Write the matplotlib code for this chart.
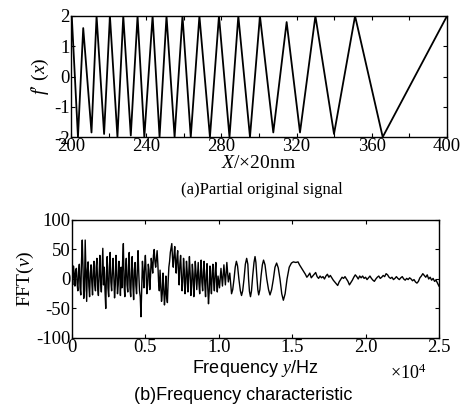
import matplotlib
matplotlib.use("Agg")
import matplotlib.pyplot as plt
from matplotlib.ticker import MultipleLocator

plt.rcParams['font.family'] = ['Liberation Serif', 'DejaVu Serif']
plt.rcParams['mathtext.fontset'] = 'custom'
plt.rcParams['mathtext.rm'] = 'Liberation Serif'
plt.rcParams['mathtext.it'] = 'Liberation Serif:italic'
plt.rcParams['axes.unicode_minus'] = False

# (a) partial original signal: turning points of the triangle wave
sig_x = [200.0, 200.4, 203.7, 206.5, 210.9, 213.6, 217.6, 220.7, 224.7, 227.8,
         231.8, 235.4, 239.0, 243.4, 247.1, 250.8, 255.1, 259.3, 263.7, 268.3,
         273.9, 278.7, 284.3, 289.0, 295.2, 300.5, 307.6, 314.7, 321.8, 330.0,
         339.9, 351.1, 365.8, 400.0]
sig_y = [1.0, 2.0, -2.0, 1.6, -1.85, 2.0, -1.9, 2.0, -2.0, 2.0,
         -1.95, 2.0, -2.0, 2.0, -2.0, 2.0, -2.0, 2.0, -2.0, 2.0,
         -2.0, 2.0, -2.0, 2.0, -2.0, 2.0, -1.85, 1.8, -1.85, 2.0,
         -1.9, 2.0, -2.0, 2.0]

# (b) frequency characteristic (frequency in units of 1e4 Hz)
# noisy part, one value every 0.005 from 0 to 0.995
dense_y = [5, -10, 22, 8, -12, 15, 18, -8, -20, 12,
           25, -15, -27, 30, 66, 20, -33, -20, 66, 10,
           -38, 15, 29, -12, -30, 10, 24, -5, -27, 15,
           30, -10, -20, 20, 35, -15, -28, 10, 40, -5,
           -22, 15, 52, -10, 20, -20, -50, 10, 38, -15,
           -30, 20, 45, -5, -20, 10, 35, 5, -32, -10,
           40, 15, -25, -10, 30, 12, -28, 20, -15, 30,
           60, -10, -30, 15, 35, -10, -22, 20, 45, -15,
           -30, 10, 38, -10, -35, 15, 28, -10, -25, 15,
           48, 10, -20, -30, -64, -20, 30, 10, -15, 20,
           40, 10, -25, -10, 25, 15, -18, 5, 35, 25,
           10, 40, 50, 30, 20, 35, 48, 25, -5, -20,
           15, -10, -38, -25, 10, -15, -44, -25, 5, -30,
           -40, -5, 20, 30, 45, 52, 60, 35, 20, 40,
           55, 30, 10, 35, 48, 15, -10, 25, 40, 10,
           -20, -5, 35, 15, -25, -8, 30, 12, -22, 5,
           38, 10, -28, -10, 25, 8, -30, -5, 30, 10,
           -18, 5, 28, -8, -25, 10, 32, -5, -20, 12,
           30, -10, -30, 8, 26, -15, -42, -20, 22, -5,
           -25, 10, 25, -5, -20, 10, 28, -5, -22, 5]
dense_x = [i / 200 for i in range(len(dense_y))]

# slower oscillation up to about 1.55
wave_x = [1.005, 1.015, 1.025, 1.035, 1.045, 1.055, 1.065, 1.075, 1.087, 1.095,
          1.104, 1.112, 1.120, 1.128, 1.137, 1.147, 1.155, 1.163, 1.172, 1.181,
          1.190, 1.198, 1.203, 1.209, 1.216, 1.223, 1.231, 1.240, 1.247, 1.253,
          1.259, 1.266, 1.272, 1.280, 1.288, 1.297, 1.305, 1.315, 1.327, 1.339,
          1.349, 1.360, 1.372, 1.383, 1.394, 1.405, 1.417, 1.429, 1.440, 1.452,
          1.465, 1.480, 1.495, 1.508, 1.525, 1.540, 1.550]
wave_y = [-15, 18, -12, 24, -10, 28, -5, 10, -25, -18,
          0, 20, 30, 22, 0, -20, -28, -20, 0, 25,
          35, 25, 0, -21, -30, -20, 5, 28, 38, 28,
          5, -18, -27, -18, 5, 24, 32, 24, 0, -18,
          -27, -18, 0, 20, 27, 19, 0, -25, -36, -25,
          0, 20, 27, 29, 28, 29, 24]

# flat noisy tail, one value every 0.01 from 1.56 to 2.50
tail_y = [20, 16, 12, 8, 3, 6, 10, 2, 5, 8,
          11, 4, 1, 5, 2, 4, 0, 5, 8, 3,
          6, 2, -2, -5, -8, -11, -5, -1, 3, 1,
          4, 0, -4, -10, -6, -2, 3, 7, 4, 0,
          5, 2, 5, 1, 3, -1, 2, 5, 1, -2,
          -4, 0, 3, 5, 1, 3, 6, 4, 9, 7,
          3, 1, 3, -1, 1, 4, 1, -1, 2, 4,
          0, -2, 1, -1, 2, 0, -3, -1, -5, -7,
          -4, 2, 5, 9, 6, 3, 7, 0, 3, -2,
          1, -4, -2, -7, -12]
tail_x = [(156 + i) / 100 for i in range(len(tail_y))]

fig = plt.figure(figsize=(4.65, 4.08), dpi=100)

ax1 = fig.add_axes([0.1527, 0.6642, 0.8086, 0.2966])
ax1.plot(sig_x, sig_y, color='black', linewidth=1.3)
ax1.set_xlim(200, 400)
ax1.set_ylim(-2, 2)
ax1.xaxis.set_major_locator(MultipleLocator(40))
ax1.xaxis.set_minor_locator(MultipleLocator(20))
ax1.yaxis.set_major_locator(MultipleLocator(1))
ax1.set_xlabel(r"$X$/×20nm", fontsize=14, labelpad=0)
ax1.set_ylabel(r"$f$′ ($x$)", fontsize=14, labelpad=2)

ax2 = fig.add_axes([0.1548, 0.1716, 0.7892, 0.2892])
ax2.plot(dense_x + wave_x + tail_x, dense_y + wave_y + tail_y,
         color='black', linewidth=1.0)
ax2.set_xlim(0, 2.5)
ax2.set_ylim(-100, 100)
ax2.yaxis.set_major_locator(MultipleLocator(50))
ax2.set_xticks([0, 0.5, 1.0, 1.5, 2.0, 2.5])
ax2.set_xticklabels(['0', '0.5', '1.0', '1.5', '2.0', '2.5'])
ax2.set_xlabel(r"Frequency $y$/Hz", fontsize=13, family='Liberation Sans', labelpad=1)
ax2.set_ylabel(r"FFT($v$)", fontsize=14, labelpad=0)

for ax in (ax1, ax2):
    ax.tick_params(which='both', direction='in', top=True, right=True,
                   length=3, width=0.8, labelsize=13.5, pad=1)
    for s in ax.spines.values():
        s.set_linewidth(1.0)

fig.text(0.877, 0.086, r"×10$^4$", fontsize=13, ha='center', va='center')
fig.text(0.563, 0.534, "(a)Partial original signal", fontsize=12, ha='center', va='center')
fig.text(0.523, 0.031, "(b)Frequency characteristic", fontsize=13, ha='center',
         va='center', family='Liberation Sans')

fig.savefig("out.png", dpi=100)
